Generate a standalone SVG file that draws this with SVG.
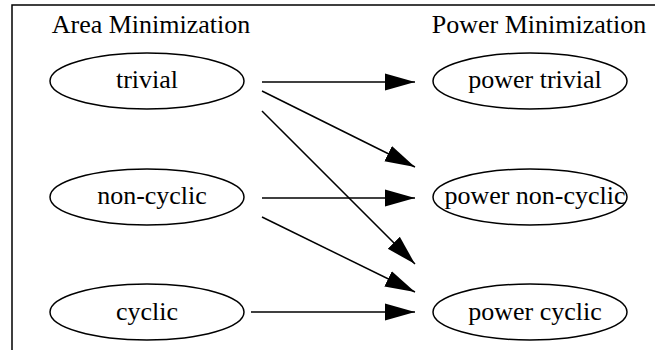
<svg xmlns="http://www.w3.org/2000/svg" width="655" height="350" viewBox="0 0 655 350">
<style>
.n ellipse{fill:none;stroke:#000;stroke-width:1.5}
text{font-family:"Liberation Serif","Times New Roman",serif;font-size:26px;fill:#000;text-anchor:middle}
.e line{stroke:#000;stroke-width:1.5}
</style>
<defs>
<marker id="ah" markerUnits="userSpaceOnUse" markerWidth="32" markerHeight="20" viewBox="0 -10 32 20" refX="30" refY="0" orient="auto">
<path d="M0,-8.5 L30,0 L0,8.5 Z" fill="#000"/>
</marker>
</defs>
<rect x="12" y="5" width="700" height="400" fill="none" stroke="#000" stroke-width="1.5"/>
<g id="label-area"><text x="151" y="33">Area Minimization</text></g>
<g id="label-power"><text x="539" y="33">Power Minimization</text></g>
<g id="trivial" class="n"><ellipse cx="147" cy="81" rx="97" ry="28"/><text x="147" y="88">trivial</text></g>
<g id="noncyclic" class="n"><ellipse cx="147" cy="197" rx="97" ry="28"/><text x="152" y="204">non-cyclic</text></g>
<g id="cyclic" class="n"><ellipse cx="147" cy="312" rx="97" ry="28"/><text x="147" y="320">cyclic</text></g>
<g id="ptrivial" class="n"><ellipse cx="530" cy="81" rx="97" ry="28"/><text x="535" y="88">power trivial</text></g>
<g id="pnoncyclic" class="n"><ellipse cx="530" cy="197" rx="97" ry="28"/><text x="535" y="204">power non-cyclic</text></g>
<g id="pcyclic" class="n"><ellipse cx="530" cy="312" rx="97" ry="28"/><text x="535" y="320">power cyclic</text></g>
<g id="edges" class="e">
<line x1="262" y1="82" x2="415" y2="82" marker-end="url(#ah)"/>
<line x1="262" y1="91" x2="415" y2="167" marker-end="url(#ah)"/>
<line x1="262" y1="111" x2="415" y2="264" marker-end="url(#ah)"/>
<line x1="262" y1="198" x2="415" y2="198" marker-end="url(#ah)"/>
<line x1="262" y1="217" x2="415" y2="292" marker-end="url(#ah)"/>
<line x1="251" y1="312" x2="415" y2="312" marker-end="url(#ah)"/>
</g>
</svg>
